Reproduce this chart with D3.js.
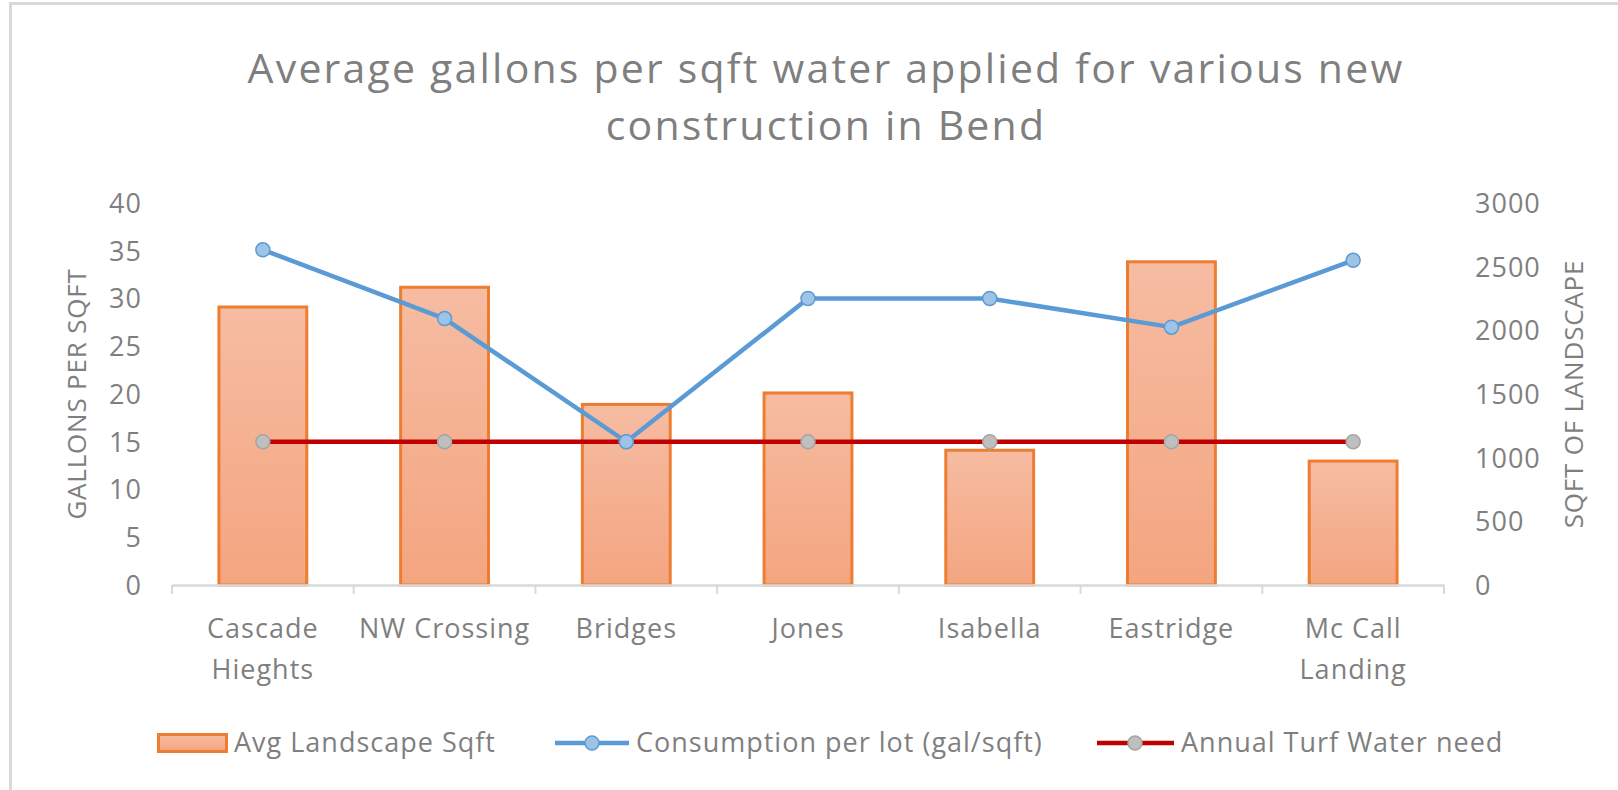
<!DOCTYPE html>
<html><head><meta charset="utf-8">
<script src="https://cdn.jsdelivr.net/npm/d3@7"></script>
<style>html,body{margin:0;padding:0;background:#fff;}svg{display:block;}</style>
</head><body>
<svg id="chart" width="1618" height="790"></svg>
<script>
const categories = [["Cascade","Hieghts"],["NW Crossing"],["Bridges"],["Jones"],["Isabella"],["Eastridge"],["Mc Call","Landing"]];
const landscapeSqft = [2195, 2350, 1430, 1520, 1070, 2550, 985];
const consumption = [35.1, 27.9, 15, 30, 30, 27, 34];
const turfNeed = [15, 15, 15, 15, 15, 15, 15];
const leftTicks = [0,5,10,15,20,25,30,35,40];
const rightTicks = [0,500,1000,1500,2000,2500,3000];
const titleLines = ["Average gallons per sqft water applied for various new","construction in Bend"];
const seriesNames = ["Avg Landscape Sqft","Consumption per lot (gal/sqft)","Annual Turf Water need"];

const svg = d3.select("#chart");
const FONT = "'Open Sans', sans-serif";
const GRAY = "#7f7f7f";
const X0 = 172, X1 = 1444, YT = 203, YB = 585;

// chart border (partially visible)
svg.append("line").attr("x1",9).attr("x2",1618).attr("y1",3.5).attr("y2",3.5).attr("stroke","#d9d9d9").attr("stroke-width",3);
svg.append("line").attr("x1",10.5).attr("x2",10.5).attr("y1",2).attr("y2",790).attr("stroke","#d9d9d9").attr("stroke-width",3);

const defs = svg.append("defs");
const grad = defs.append("linearGradient").attr("id","barGrad").attr("x1",0).attr("x2",0).attr("y1",0).attr("y2",1);
grad.append("stop").attr("offset","0%").attr("stop-color","#f6bca2");
grad.append("stop").attr("offset","100%").attr("stop-color","#f4a580");

const x = d3.scaleBand().domain(d3.range(categories.length)).range([X0, X1]).paddingInner(0.5).paddingOuter(0.25);
const xb = d3.scaleBand().domain(d3.range(categories.length)).range([X0, X1]);
const yL = d3.scaleLinear().domain([0,40]).range([YB, YT]);
const yR = d3.scaleLinear().domain([0,3000]).range([YB, YT]);

// title
svg.append("g").selectAll("text").data(titleLines).join("text")
  .attr("x", 826).attr("y",(d,i)=>83+i*57).attr("text-anchor","middle")
  .attr("font-family",FONT).attr("font-size",41).attr("letter-spacing",2.2).attr("fill",GRAY).text(d=>d);

// bars
svg.append("g").selectAll("rect").data(landscapeSqft).join("rect")
  .attr("x",(d,i)=>x(i)+1.5).attr("width",x.bandwidth()-3)
  .attr("y",d=>yR(d)+1.5).attr("height",d=>YB-yR(d)-1.5)
  .attr("fill","url(#barGrad)").attr("stroke","#ed7d31").attr("stroke-width",3);

// x axis
const xAxis = d3.axisBottom(xb).tickSize(0).tickFormat("");
const gx = svg.append("g").attr("transform",`translate(0,${YB})`).call(xAxis);
gx.select(".domain").attr("stroke","#d9d9d9").attr("stroke-width",2.5);
svg.append("g").selectAll("line").data(d3.range(categories.length+1)).join("line")
  .attr("x1",i=>X0+i*xb.bandwidth()).attr("x2",i=>X0+i*xb.bandwidth())
  .attr("y1",YB).attr("y2",YB+9).attr("stroke","#d9d9d9").attr("stroke-width",2);

// category labels
const catG = svg.append("g");
categories.forEach((lines,i)=>{
  const t = catG.append("text").attr("text-anchor","middle").attr("font-family",FONT)
    .attr("font-size",27).attr("letter-spacing",1).attr("fill",GRAY);
  lines.forEach((ln,j)=>{
    t.append("tspan").attr("x", xb(i)+xb.bandwidth()/2).attr("y",638+j*41).text(ln);
  });
});

// left axis
const gl = svg.append("g").attr("transform",`translate(${X0},0)`)
  .call(d3.axisLeft(yL).tickValues(leftTicks).tickSize(0).tickPadding(30).tickFormat(d3.format("d")));
gl.select(".domain").remove();
gl.selectAll("text").attr("font-family",FONT).attr("font-size",27).attr("letter-spacing",1).attr("fill",GRAY).attr("dy","0.35em");

// right axis
const gr = svg.append("g").attr("transform",`translate(${X1},0)`)
  .call(d3.axisRight(yR).tickValues(rightTicks).tickSize(0).tickPadding(31).tickFormat(d3.format("d")));
gr.select(".domain").remove();
gr.selectAll("text").attr("font-family",FONT).attr("font-size",27).attr("letter-spacing",1).attr("fill",GRAY).attr("dy","0.35em");

// axis titles
svg.append("text").attr("transform","translate(86,394) rotate(-90)").attr("text-anchor","middle")
  .attr("font-family",FONT).attr("font-size",26).attr("letter-spacing",0.8).attr("fill",GRAY).text("GALLONS PER SQFT");
svg.append("text").attr("transform","translate(1583,394) rotate(-90)").attr("text-anchor","middle")
  .attr("font-family",FONT).attr("font-size",26).attr("letter-spacing",0.8).attr("fill",GRAY).text("SQFT OF LANDSCAPE");

const cx = i => xb(i)+xb.bandwidth()/2;
const lineGen = yS => d3.line().x((d,i)=>cx(i)).y(d=>yS(d));

// red turf line
svg.append("path").datum(turfNeed).attr("d",lineGen(yL)).attr("fill","none")
  .attr("stroke","#c00000").attr("stroke-width",4.5);
// blue consumption line
svg.append("path").datum(consumption).attr("d",lineGen(yL)).attr("fill","none")
  .attr("stroke","#5b9bd5").attr("stroke-width",4.5).attr("stroke-linejoin","round");

svg.append("g").selectAll("circle").data(turfNeed).join("circle")
  .attr("cx",(d,i)=>cx(i)).attr("cy",d=>yL(d)).attr("r",7)
  .attr("fill","#bfbfbf").attr("stroke","#a5a5a5").attr("stroke-width",1.5);
svg.append("g").selectAll("circle").data(consumption).join("circle")
  .attr("cx",(d,i)=>cx(i)).attr("cy",d=>yL(d)).attr("r",7)
  .attr("fill","#9dc3e6").attr("stroke","#5b9bd5").attr("stroke-width",1.5);

// legend
const lg = svg.append("g");
lg.append("rect").attr("x",158.5).attr("y",734.5).attr("width",68).attr("height",17)
  .attr("fill","url(#barGrad)").attr("stroke","#ed7d31").attr("stroke-width",3);
lg.append("line").attr("x1",555).attr("x2",629).attr("y1",743).attr("y2",743).attr("stroke","#5b9bd5").attr("stroke-width",4.5);
lg.append("circle").attr("cx",592).attr("cy",743).attr("r",7).attr("fill","#9dc3e6").attr("stroke","#5b9bd5").attr("stroke-width",1.5);
lg.append("line").attr("x1",1097).attr("x2",1174).attr("y1",743).attr("y2",743).attr("stroke","#c00000").attr("stroke-width",4.5);
lg.append("circle").attr("cx",1135).attr("cy",743).attr("r",7).attr("fill","#bfbfbf").attr("stroke","#a5a5a5").attr("stroke-width",1.5);
const legX = [234, 636, 1181];
lg.selectAll("text.leg").data(seriesNames).join("text").attr("class","leg")
  .attr("x",(d,i)=>legX[i]).attr("y",752).attr("font-family",FONT).attr("font-size",27).attr("letter-spacing",1)
  .attr("fill",GRAY).text(d=>d);
</script>
</body></html>
